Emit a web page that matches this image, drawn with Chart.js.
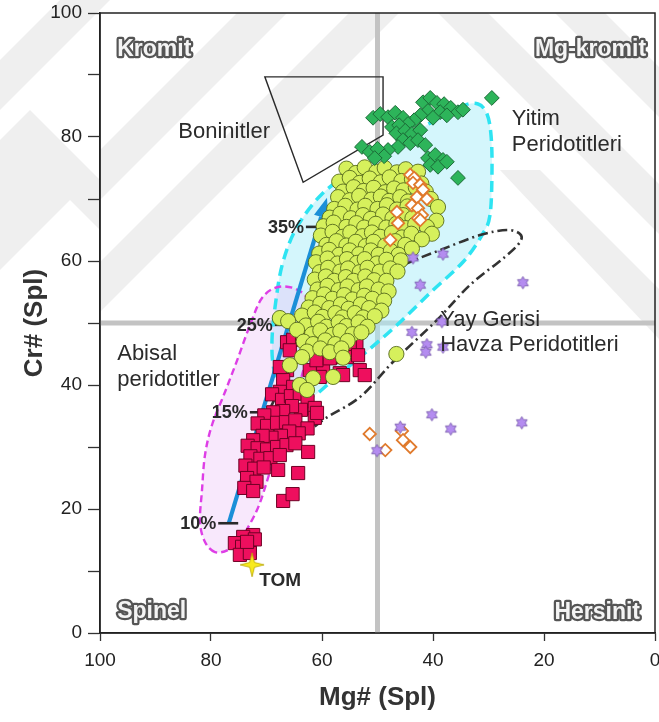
<!DOCTYPE html>
<html>
<head>
<meta charset="utf-8">
<script src="https://cdn.jsdelivr.net/npm/chart.js@4.4.1/dist/chart.umd.min.js"></script>
<style>
  html, body { margin: 0; padding: 0; background: #fff; }
  #wrap { width: 659px; height: 722px; }
</style>
</head>
<body>
<div id="wrap"><canvas id="c" width="659" height="722"></canvas></div>
<script>
// ---- Spinel Mg# / Cr# data (pairs are [Mg#, Cr#]) ----
const circlePts = [
  [55.6,74.9],[53.9,74.2],[52.3,75.1],[50.2,74.4],[48.7,75.0],[46.5,74.3],[44.9,74.8],[42.7,74.4],
  [56.9,72.8],[55.0,73.4],[53.2,72.6],[51.4,73.3],[49.4,72.7],[47.8,73.5],[45.7,72.9],[43.8,73.2],[42.1,72.5],
  [56.2,71.2],[54.3,71.9],[52.5,71.3],[50.7,71.8],[48.6,71.1],[47.0,71.7],[45.3,71.4],[43.1,71.9],[41.3,71.2],
  [57.1,70.3],[55.0,69.8],[53.3,70.5],[51.1,69.9],[49.4,70.4],[47.9,69.7],[45.9,70.3],[44.5,69.6],[40.4,70.0],
  [57.8,68.4],[55.8,68.9],[53.6,68.3],[52.2,68.9],[50.0,68.4],[48.3,69.0],[46.5,68.3],[44.6,68.8],[39.1,68.7],
  [58.6,67.0],[56.7,67.6],[54.8,66.9],[52.6,67.4],[51.2,66.8],[49.0,67.5],[47.3,66.9],[45.4,67.4],[43.7,66.9],[39.4,66.5],
  [59.7,65.6],[57.9,66.2],[55.6,65.5],[53.8,66.1],[52.4,65.4],[50.3,66.0],[48.4,65.4],[46.6,66.0],[44.9,65.3],[43.2,65.9],[41.1,65.5],
  [60.2,64.1],[58.1,64.7],[56.3,63.9],[54.9,64.6],[52.7,64.0],[51.0,64.6],[49.5,63.9],[47.4,64.5],[45.6,63.8],[43.9,64.4],[40.2,64.4],
  [59.2,62.6],[57.4,63.2],[55.6,62.5],[53.9,63.1],[52.1,62.4],[50.7,63.1],[48.6,62.5],[46.8,63.2],[45.0,62.6],[42.0,63.5],
  [60.5,61.2],[58.7,61.8],[56.9,61.0],[55.0,61.7],[53.3,61.1],[51.2,61.7],[49.8,61.0],[47.6,61.6],[46.2,61.0],[43.8,62.0],
  [61.1,59.8],[59.0,60.4],[57.2,59.6],[55.5,60.3],[53.7,59.7],[52.3,60.3],[50.1,59.6],[48.4,60.2],[45.8,60.1],
  [60.4,58.2],[58.9,58.9],[56.7,58.3],[55.3,58.8],[53.2,58.2],[51.8,58.9],[49.6,58.3],[47.7,58.8],[46.4,58.3],
  [61.3,57.0],[59.3,57.5],[57.8,56.8],[55.7,57.4],[54.3,56.8],[52.2,57.5],[50.6,56.9],[48.4,56.8],
  [60.8,55.4],[59.0,56.0],[57.0,55.3],[55.4,55.9],[53.4,55.3],[51.9,55.9],[49.8,55.4],[48.0,55.1],
  [61.7,54.0],[59.6,54.6],[58.1,53.9],[56.0,54.5],[54.5,53.8],[52.4,54.4],[50.9,53.9],[48.8,53.6],
  [62.4,52.5],[60.3,53.1],[58.7,52.4],[56.6,53.0],[55.2,52.3],[53.0,53.0],[51.5,52.4],[49.3,52.0],
  [63.6,51.2],[61.3,51.7],[59.9,51.0],[57.6,51.6],[56.3,50.9],[54.1,51.6],[52.6,50.9],[50.5,51.1],
  [67.6,50.8],[66.1,50.3],
  [62.9,49.6],[60.7,50.2],[59.2,49.4],[57.0,50.1],[55.6,49.5],[53.4,50.1],[51.8,49.4],
  [64.5,48.9],[61.8,48.2],[60.3,48.8],[58.1,48.1],[56.7,48.7],[54.5,48.2],[52.9,48.5],
  [63.3,47.0],[61.6,46.6],[59.4,47.2],[57.6,46.6],[55.4,47.1],
  [62.7,45.4],[60.3,45.9],[58.6,45.3],[56.5,45.9],
  [63.6,44.5],[56.2,44.4],[46.6,45.0],
  [65.8,43.2],[61.6,41.1],[58.0,41.3],[64.0,40.0],[62.7,39.2]
];

const squarePts = [
  [66.3,46.9],[65.2,47.3],[63.6,47.6],[65.8,45.6],[55.3,47.4],[53.8,46.9],[55.0,46.6],[55.5,44.5],
  [53.5,44.8],[57.3,44.5],[53.2,42.4],[52.3,41.6],[56.8,41.9],[56.2,41.6],[59.8,42.9],[60.4,41.3],
  [62.2,42.4],[61.0,44.0],[66.3,42.4],[67.0,40.8],[65.2,39.7],[67.6,38.9],[67.6,42.9],[58.6,44.3],
  [69.0,38.5],[67.2,37.6],[65.6,38.2],[64.0,38.6],[62.6,37.4],[61.3,36.3],[63.8,36.0],[65.4,36.6],
  [67.0,35.8],[68.8,35.6],[70.4,35.1],[71.6,33.8],[69.9,33.4],[68.1,33.9],[66.5,34.0],[64.8,34.3],
  [61.3,34.7],[60.9,35.5],[62.6,33.0],[64.2,32.2],[65.9,32.5],[67.4,31.8],[69.1,31.5],[70.7,31.8],
  [72.4,31.1],[73.4,30.2],[71.6,29.8],[69.9,29.6],[68.1,30.0],[66.4,30.3],[64.8,30.6],[62.5,29.2],
  [72.9,28.5],[71.1,28.1],[69.3,28.2],[67.6,28.7],[73.8,27.0],[72.2,26.5],[70.5,26.7],[67.9,26.3],
  [64.3,25.8],[73.5,25.0],[71.8,24.4],[74.0,23.4],[72.4,22.9],[67.0,21.3],[65.3,22.4],
  [72.4,15.8],[74.2,15.5],[75.7,14.5],[74.4,13.9],[73.0,13.7],[74.8,12.6],[73.0,12.9],[72.1,15.1],[73.5,14.7]
];

const greenDiamondPts = [
  [29.4,86.3],
  [41.8,85.6],[40.5,86.3],[39.3,85.5],[38.0,85.3],[36.8,84.7],[35.5,84.0],[34.6,84.4],[40.9,84.2],
  [38.7,84.0],[37.5,83.5],[42.3,83.5],[40.0,83.1],[43.4,82.7],
  [50.8,83.1],[49.5,83.7],[48.1,83.2],[46.8,83.9],[45.4,83.1],[44.5,82.1],
  [47.4,81.6],[46.1,81.9],[46.6,80.6],[45.0,81.0],[43.8,80.5],[42.3,81.1],[45.4,79.5],[44.1,79.0],
  [42.7,79.5],[41.4,78.7],[46.3,78.4],[48.1,77.9],
  [52.8,78.4],[51.4,77.6],[50.0,78.1],[48.8,76.9],[50.5,76.6],
  [40.9,76.6],[39.6,77.1],[38.2,76.3],[40.5,75.5],[39.1,75.2],[37.5,76.0],
  [35.5,73.4]
];

const orangeDiamondPts = [
  [44.1,73.9],[43.4,73.4],[43.6,72.6],[42.3,72.3],[41.8,71.5],[42.9,70.3],[41.1,70.0],[43.8,69.0],
  [42.7,68.5],[42.0,67.4],[42.7,66.9],[42.3,66.6],[46.5,67.9],[46.3,66.1],[47.7,63.4],
  [51.4,32.1],[48.6,29.5],[45.6,32.6],[45.4,31.1],[44.1,30.0]
];

const starPts = [
  [43.6,60.5],[38.2,61.1],[42.3,56.1],[23.8,56.5],[43.8,48.5],[38.4,50.2],[41.1,46.5],
  [41.3,45.3],[38.2,46.1],[40.2,35.2],[36.8,32.9],[24.0,33.9],[45.9,33.2],[50.1,29.4]
];

const tomPts = [[72.6,11.0]];

// axis tick labels
const xTickLabels = [100, 80, 60, 40, 20, 0];
const yTickLabels = [0, 20, 40, 60, 80, 100];

// ---- field outlines [Mg#, Cr#] ----
const yitimField = [
  [63.96,37.90],[67.03,39.19],[68.65,42.42],[69.01,47.26],[68.29,53.71],[67.03,59.84],[64.50,65.48],
  [59.82,70.97],[53.51,75.00],[45.95,79.19],[40.18,82.42],[34.77,85.00],[31.89,85.32],[30.27,83.71],
  [29.55,80.32],[29.37,74.68],[29.73,67.42],[31.17,64.19],[34.59,59.84],[40.54,54.84],[46.49,49.68],
  [52.25,45.16],[57.66,41.13],[61.26,38.39]
];
const abisalField = [
  [79.28,13.06],[81.08,14.68],[81.98,17.90],[81.62,23.06],[81.08,28.71],[79.82,33.55],[77.48,38.87],
  [75.14,44.35],[72.97,49.68],[70.81,54.03],[67.93,55.81],[64.32,55.32],[62.16,52.90],[62.16,47.26],
  [63.60,41.61],[65.77,35.97],[67.93,30.32],[69.73,25.00],[71.71,19.84],[74.77,15.00],[76.94,13.39]
];
const yayGerisiField = [
  [72.61,28.71],[70.81,27.42],[65.77,30.00],[59.82,34.35],[53.15,38.06],[47.21,43.71],[39.28,50.48],
  [33.33,56.13],[27.03,60.65],[24.32,63.06],[24.32,64.35],[26.67,65.00],[31.53,64.19],[38.20,61.94],
  [44.14,59.84],[48.29,57.90],[54.95,52.90],[62.16,46.13],[66.67,40.81],[70.27,34.35]
];
const boninitField = [[70.3,89.7],[49.0,89.7],[49.0,80.3],[63.4,72.7]];

// melting trend arrow and degree-of-melting marks
const meltArrow = [[76.8,17.7],[59.1,70.2]];
const meltMarks = [
  { label: '10%', cr: 17.7, mgA: 78.7, mgB: 75.1 },
  { label: '15%', cr: 35.6, mgA: 73.0, mgB: 70.6 },
  { label: '25%', cr: 49.7, mgA: 68.5, mgB: 65.8 },
  { label: '35%', cr: 65.5, mgA: 62.9, mgB: 59.1 }
];

const FONT = "'Liberation Sans', Arial, Helvetica, sans-serif";

// ---- custom point sprites ----
function hexagram(r, fill, stroke) {
  const s = Math.ceil(r * 2 + 4);
  const c = document.createElement('canvas');
  c.width = c.height = s;
  const g = c.getContext('2d');
  g.beginPath();
  for (let i = 0; i < 12; i++) {
    const a = -Math.PI / 2 + i * Math.PI / 6;
    const rr = i % 2 ? r * 0.58 : r;
    g.lineTo(s / 2 + rr * Math.cos(a), s / 2 + rr * Math.sin(a));
  }
  g.closePath();
  g.fillStyle = fill; g.fill();
  g.strokeStyle = stroke; g.lineWidth = 0.8; g.stroke();
  return c;
}
function fourStar(r, fill, stroke) {
  const s = Math.ceil(r * 2 + 4);
  const c = document.createElement('canvas');
  c.width = c.height = s;
  const g = c.getContext('2d');
  g.beginPath();
  for (let i = 0; i < 8; i++) {
    const a = -Math.PI / 2 + i * Math.PI / 4;
    const rr = i % 2 ? r * 0.28 : r;
    g.lineTo(s / 2 + rr * Math.cos(a), s / 2 + rr * Math.sin(a));
  }
  g.closePath();
  g.fillStyle = fill; g.fill();
  g.strokeStyle = stroke; g.lineWidth = 0.8; g.stroke();
  return c;
}
const starImg = hexagram(6.2, '#b48cf0', '#6f4fa6');
const tomImg = fourStar(12, '#f8ea1c', '#b8a400');

const toXY = arr => arr.map(p => ({ x: p[0], y: p[1] }));

// ---- drawing helpers ----
function smoothClosed(ctx, P) {
  const n = P.length;
  ctx.moveTo(P[0][0], P[0][1]);
  for (let i = 0; i < n; i++) {
    const p0 = P[(i - 1 + n) % n], p1 = P[i], p2 = P[(i + 1) % n], p3 = P[(i + 2) % n];
    const t = 1 / 6;
    ctx.bezierCurveTo(
      p1[0] + (p2[0] - p0[0]) * t, p1[1] + (p2[1] - p0[1]) * t,
      p2[0] - (p3[0] - p1[0]) * t, p2[1] - (p3[1] - p1[1]) * t,
      p2[0], p2[1]);
  }
  ctx.closePath();
}
function outlinedText(ctx, text, x, y, align) {
  ctx.save();
  ctx.font = 'bold 23px ' + FONT;
  ctx.textAlign = align;
  ctx.textBaseline = 'alphabetic';
  ctx.lineJoin = 'round';
  ctx.strokeStyle = '#555555';
  ctx.lineWidth = 4.5;
  ctx.strokeText(text, x, y);
  ctx.fillStyle = '#f4f4f4';
  ctx.fillText(text, x, y);
  ctx.restore();
}

const decor = {
  id: 'decor',
  beforeDraw(chart) {
    const ctx = chart.ctx;
    ctx.save();
    ctx.fillStyle = '#ffffff';
    ctx.fillRect(0, 0, chart.width, chart.height);
    // faint diagonal background bands
    ctx.fillStyle = '#efefef';
    const bands = [
      [[0, 60], [0, 110], [110, 0], [60, 0]],
      [[0, 140], [30, 110], [100, 180], [100, 230], [70, 200], [0, 270]],
      [[100, 150], [100, 200], [287, 13], [237, 13]],
      [[100, 262], [100, 312], [399, 13], [349, 13]],
      [[438, 13], [488, 13], [659, 184], [659, 234]],
      [[555, 13], [605, 13], [659, 67], [659, 117]],
      [[500, 170], [540, 170], [659, 289], [659, 339]]
    ];
    bands.forEach(b => {
      ctx.beginPath();
      b.forEach((p, i) => i ? ctx.lineTo(p[0], p[1]) : ctx.moveTo(p[0], p[1]));
      ctx.closePath();
      ctx.fill();
    });
    ctx.restore();
  },
  beforeDatasetsDraw(chart) {
    const ctx = chart.ctx;
    const xs = chart.scales.x, ys = chart.scales.y;
    const px = v => xs.getPixelForValue(v), py = v => ys.getPixelForValue(v);
    const pt = p => [px(p[0]), py(p[1])];
    const a = chart.chartArea;
    ctx.save();

    // Cr# = 50 and Mg# = 50 divisions
    ctx.strokeStyle = '#c3c3c3';
    ctx.lineWidth = 5;
    ctx.beginPath();
    ctx.moveTo(px(50), a.top); ctx.lineTo(px(50), a.bottom);
    ctx.moveTo(a.left, py(50)); ctx.lineTo(a.right, py(50));
    ctx.stroke();

    // fields
    const yit = yitimField.map(pt), abi = abisalField.map(pt), yay = yayGerisiField.map(pt);
    ctx.beginPath(); smoothClosed(ctx, yit);
    ctx.fillStyle = 'rgba(170,238,250,0.5)'; ctx.fill();
    ctx.beginPath(); smoothClosed(ctx, abi);
    ctx.fillStyle = 'rgba(236,190,245,0.35)'; ctx.fill();

    ctx.lineCap = 'butt';
    ctx.beginPath(); smoothClosed(ctx, yit);
    ctx.setLineDash([11, 6]); ctx.lineWidth = 3.5; ctx.strokeStyle = '#2ee4f2'; ctx.stroke();
    ctx.beginPath(); smoothClosed(ctx, abi);
    ctx.setLineDash([7, 4]); ctx.lineWidth = 2.4; ctx.strokeStyle = '#de3ee6'; ctx.stroke();
    ctx.beginPath(); smoothClosed(ctx, yay);
    ctx.setLineDash([10, 4, 2, 4]); ctx.lineWidth = 2.6; ctx.strokeStyle = '#333333'; ctx.stroke();
    ctx.setLineDash([]);

    // boninite field
    ctx.beginPath();
    boninitField.map(pt).forEach((p, i) => i ? ctx.lineTo(p[0], p[1]) : ctx.moveTo(p[0], p[1]));
    ctx.closePath();
    ctx.lineWidth = 1.4; ctx.strokeStyle = '#2a2a2a'; ctx.stroke();

    // melting trend arrow
    const s = pt(meltArrow[0]), e = pt(meltArrow[1]);
    const ang = Math.atan2(e[1] - s[1], e[0] - s[0]);
    const hl = 20, hw = 7.5;
    const bx = e[0] - hl * Math.cos(ang), by = e[1] - hl * Math.sin(ang);
    ctx.strokeStyle = '#1b8fd8'; ctx.fillStyle = '#1b8fd8';
    ctx.lineWidth = 4.2;
    ctx.beginPath(); ctx.moveTo(s[0], s[1]); ctx.lineTo(bx, by); ctx.stroke();
    ctx.beginPath();
    ctx.moveTo(e[0], e[1]);
    ctx.lineTo(bx + hw * Math.sin(ang), by - hw * Math.cos(ang));
    ctx.lineTo(bx - hw * Math.sin(ang), by + hw * Math.cos(ang));
    ctx.closePath(); ctx.fill();

    // melting degree marks
    ctx.strokeStyle = '#2a2a2a'; ctx.fillStyle = '#2a2a2a';
    ctx.lineWidth = 2.6;
    ctx.font = 'bold 18px ' + FONT;
    ctx.textAlign = 'right'; ctx.textBaseline = 'middle';
    meltMarks.forEach(m => {
      const y = py(m.cr), x1 = px(m.mgA), x2 = px(m.mgB);
      ctx.beginPath(); ctx.moveTo(x1, y); ctx.lineTo(x2, y); ctx.stroke();
      ctx.fillText(m.label, x1 - 2, y + 1);
    });

    // corner names
    outlinedText(ctx, 'Kromit', px(96.9), py(93.0), 'left');
    outlinedText(ctx, 'Mg-kromit', px(1.6), py(93.0), 'right');
    outlinedText(ctx, 'Spinel', px(96.9), py(2.4), 'left');
    outlinedText(ctx, 'Hersinit', px(2.7), py(2.2), 'right');

    // plot frame
    ctx.strokeStyle = '#222'; ctx.lineWidth = 1.5;
    ctx.strokeRect(a.left, a.top, a.right - a.left, a.bottom - a.top);
    ctx.restore();
  },
  afterDatasetsDraw(chart) {
    const ctx = chart.ctx;
    const xs = chart.scales.x, ys = chart.scales.y;
    const px = v => xs.getPixelForValue(v), py = v => ys.getPixelForValue(v);
    ctx.save();
    ctx.fillStyle = '#2b2b2b';
    ctx.font = '22px ' + FONT;
    ctx.textAlign = 'left'; ctx.textBaseline = 'alphabetic';
    ctx.fillText('Boninitler', px(85.9), py(79.9));
    ctx.fillText('Yitim', px(25.8), py(81.9));
    ctx.fillText('Peridotitleri', px(25.8), py(77.7));
    ctx.fillText('Abisal', px(96.9), py(44.0));
    ctx.fillText('peridotitler', px(96.9), py(39.9));
    ctx.fillText('Yay Gerisi', px(38.7), py(49.5));
    ctx.fillText('Havza Peridotitleri', px(38.7), py(45.5));
    ctx.font = 'bold 19px ' + FONT;
    ctx.fillText('TOM', px(71.3), py(7.6));
    ctx.restore();
  }
};

Chart.defaults.font.family = FONT;

new Chart(document.getElementById('c'), {
  type: 'scatter',
  data: {
    datasets: [
      { label: 'TOM', data: toXY(tomPts), pointStyle: tomImg, pointRadius: 12 },
      { label: 'Yay gerisi', data: toXY(starPts), pointStyle: starImg, pointRadius: 6 },
      { label: 'Turuncu', data: toXY(orangeDiamondPts), pointStyle: 'rectRot', pointRadius: 6.2,
        backgroundColor: '#ffffff', borderColor: '#e07a2c', borderWidth: 1.8 },
      { label: 'Yesil', data: toXY(greenDiamondPts), pointStyle: 'rectRot', pointRadius: 7.4,
        backgroundColor: '#2db45a', borderColor: '#1c6a37', borderWidth: 1 },
      { label: 'Daire', data: toXY(circlePts), pointStyle: 'circle', pointRadius: 7.6,
        backgroundColor: '#d6f05c', borderColor: '#566a1c', borderWidth: 0.9 },
      { label: 'Kare', data: toXY(squarePts), pointStyle: 'rect', pointRadius: 9.3,
        backgroundColor: '#ee0f5e', borderColor: '#6e0024', borderWidth: 1 }
    ]
  },
  options: {
    responsive: false,
    animation: false,
    devicePixelRatio: 1,
    events: [],
    layout: { autoPadding: false, padding: { left: 0, right: 4, top: 13, bottom: 0 } },
    plugins: { legend: { display: false }, tooltip: { enabled: false } },
    scales: {
      x: {
        type: 'linear', min: 0, max: 100, reverse: true,
        ticks: {
          stepSize: 20, autoSkip: false, maxRotation: 0, padding: 8,
          color: '#222', font: { size: 19 },
          callback: v => xTickLabels.includes(v) ? String(v) : ''
        },
        grid: { drawOnChartArea: false, drawTicks: true, tickLength: 8, tickColor: '#333', tickWidth: 1.3 },
        border: { display: true, color: '#222', width: 1.5 },
        title: { display: true, text: 'Mg# (Spl)', color: '#333',
                 font: { size: 26, weight: 'bold' }, padding: { top: 0, bottom: 9 } },
        afterFit(s) { s.height = 89; s.paddingLeft = 0; s.paddingRight = 0; }
      },
      y: {
        type: 'linear', min: 0, max: 100,
        ticks: {
          stepSize: 10, autoSkip: false, padding: 6,
          color: '#222', font: { size: 19 },
          callback: v => yTickLabels.includes(v) ? String(v) : ''
        },
        grid: { drawOnChartArea: false, drawTicks: true, tickLength: 12, tickColor: '#333', tickWidth: 1.3 },
        border: { display: true, color: '#222', width: 1.5 },
        title: { display: true, text: 'Cr# (Spl)', color: '#333',
                 font: { size: 26, weight: 'bold' }, padding: { top: 19, bottom: 0 } },
        afterFit(s) { s.width = 100; s.paddingTop = 0; s.paddingBottom = 0; }
      }
    }
  },
  plugins: [decor]
});
</script>
</body>
</html>
